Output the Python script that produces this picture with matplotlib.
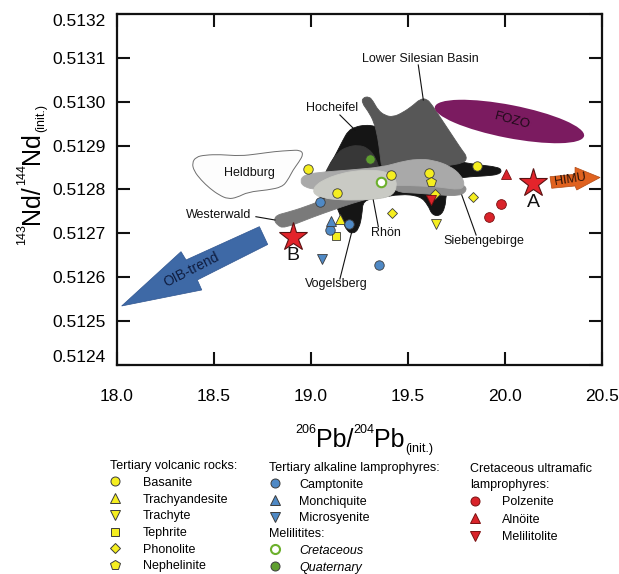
import matplotlib
matplotlib.use("Agg")
import matplotlib.pyplot as plt
from matplotlib.patches import Polygon, Ellipse, PathPatch
from matplotlib.path import Path
from matplotlib.lines import Line2D
import matplotlib.transforms as mtransforms

plt.rcParams['font.family'] = ['Liberation Sans', 'DejaVu Sans']
plt.rcParams['mathtext.default'] = 'regular'

# ---------------- axis ticks ----------------
x_ticks = [18.0, 18.5, 19.0, 19.5, 20.0, 20.5]
y_ticks = [0.5124, 0.5125, 0.5126, 0.5127, 0.5128, 0.5129, 0.5130, 0.5131, 0.5132]

# ---------------- samples: 206Pb/204Pb (init.), 143Nd/144Nd (init.) ----------------
basanite_pb = [18.983, 19.412, 19.608, 19.856, 19.134]
basanite_nd = [0.512846, 0.512832, 0.512838, 0.512854, 0.512791]
trachyandesite_pb = [19.149]
trachyandesite_nd = [0.512732]
trachyte_pb = [19.644]
trachyte_nd = [0.512721]
tephrite_pb = [19.127]
tephrite_nd = [0.512694]
phonolite_pb = [19.639, 19.833, 19.418]
phonolite_nd = [0.512790, 0.512784, 0.512747]
nephelinite_pb = [19.617]
nephelinite_nd = [0.512816]

camptonite_pb = [19.046, 19.098, 19.198, 19.352]
camptonite_nd = [0.512771, 0.512708, 0.512721, 0.512628]
monchiquite_pb = [19.103]
monchiquite_nd = [0.512728]
microsyenite_pb = [19.055]
microsyenite_nd = [0.512641]

melil_cret_pb = [19.361]
melil_cret_nd = [0.512816]
melil_quat_pb = [19.304]
melil_quat_nd = [0.512870]

polzenite_pb = [19.979, 19.918]
polzenite_nd = [0.512767, 0.512738]
alnoite_pb = [20.005]
alnoite_nd = [0.512835]
melilitolite_pb = [19.619]
melilitolite_nd = [0.512776]

# end-members A and B
star_pb = [20.146, 18.906]
star_nd = [0.5128155, 0.5126925]
star_names = ['A', 'B']

# ---------------- regional fields (Pb, Nd) ----------------
field_heldburg = [(18.387, 0.5128604), (18.407, 0.5128741), (18.454, 0.5128786), (18.531, 0.5128798),
                  (18.634, 0.5128764), (18.722, 0.5128809), (18.814, 0.5128866), (18.892, 0.5128889),
                  (18.943, 0.5128900), (18.961, 0.5128809), (18.938, 0.5128627), (18.907, 0.5128444),
                  (18.881, 0.5128217), (18.851, 0.5128057), (18.778, 0.5127989), (18.675, 0.5127943),
                  (18.619, 0.5127818), (18.572, 0.5127783), (18.526, 0.5127875), (18.479, 0.5128023),
                  (18.433, 0.5128217), (18.397, 0.5128422)]

field_vogelsberg = [(19.191, 0.5129333), (19.227, 0.5129424), (19.278, 0.5129470), (19.330, 0.5129447),
                    (19.381, 0.5129356), (19.459, 0.5129128), (19.521, 0.5128923), (19.588, 0.5128878),
                    (19.665, 0.5128764), (19.768, 0.5128627), (19.871, 0.5128558), (19.959, 0.5128513),
                    (19.985, 0.5128444), (19.969, 0.5128342), (19.897, 0.5128308), (19.794, 0.5128285),
                    (19.716, 0.5128217), (19.696, 0.5127875), (19.691, 0.5127578), (19.665, 0.5127396),
                    (19.624, 0.5127419), (19.603, 0.5127647), (19.562, 0.5127852), (19.459, 0.5127897),
                    (19.356, 0.5127806), (19.268, 0.5127761), (19.263, 0.5127419), (19.247, 0.5127100),
                    (19.216, 0.5126986), (19.186, 0.5127054), (19.165, 0.5127259), (19.139, 0.5127533),
                    (19.129, 0.5127647), (19.072, 0.5127647), (19.036, 0.5127875), (19.057, 0.5128217),
                    (19.098, 0.5128558), (19.139, 0.5128900), (19.165, 0.5129128)]

field_hocheifel = [(19.139, 0.5128855), (19.186, 0.5128969), (19.242, 0.5129014), (19.294, 0.5128946),
                   (19.335, 0.5128718), (19.356, 0.5128399), (19.314, 0.5128080), (19.149, 0.5127989),
                   (19.057, 0.5128171), (19.088, 0.5128536)]

field_lower_silesian = [(19.263, 0.5129972), (19.266, 0.5130090), (19.299, 0.5130120), (19.320, 0.5130017),
                        (19.345, 0.5129812), (19.381, 0.5129687), (19.423, 0.5129652), (19.474, 0.5129755),
                        (19.526, 0.5129915), (19.562, 0.5130060), (19.596, 0.5130070), (19.624, 0.5129926),
                        (19.665, 0.5129652), (19.706, 0.5129379), (19.747, 0.5129105), (19.778, 0.5128900),
                        (19.805, 0.5128741), (19.790, 0.5128604), (19.691, 0.5128536), (19.562, 0.5128444),
                        (19.433, 0.5128399), (19.366, 0.5128444), (19.356, 0.5128786), (19.345, 0.5129174),
                        (19.325, 0.5129538), (19.294, 0.5129789)]

field_westerwald = [(18.825, 0.5127419), (18.809, 0.5127316), (18.825, 0.5127191), (18.861, 0.5127111),
                    (19.010, 0.5127373), (19.113, 0.5127533), (19.216, 0.5127692), (19.330, 0.5127829),
                    (19.407, 0.5127920), (19.397, 0.5128217), (19.253, 0.5128103), (19.098, 0.5127829),
                    (18.969, 0.5127601), (18.866, 0.5127464)]

field_siebengebirge_low = [(19.407, 0.5128217), (19.613, 0.5128217), (19.742, 0.5128171), (19.799, 0.5128080),
                           (19.799, 0.5127943), (19.758, 0.5127852), (19.665, 0.5127875), (19.536, 0.5127920),
                           (19.433, 0.5127943)]

field_siebengebirge = [(18.943, 0.5128194), (18.964, 0.5128331), (19.031, 0.5128387), (19.201, 0.5128444),
                       (19.371, 0.5128513), (19.459, 0.5128627), (19.546, 0.5128695), (19.629, 0.5128672),
                       (19.716, 0.5128536), (19.773, 0.5128331), (19.794, 0.5128103), (19.768, 0.5127989),
                       (19.665, 0.5128057), (19.562, 0.5128080), (19.433, 0.5128103), (19.201, 0.5127989),
                       (19.031, 0.5127989), (18.964, 0.5128057)]

field_rhoen = [(19.010, 0.5127989), (19.031, 0.5128125), (19.077, 0.5128239), (19.129, 0.5128331),
               (19.216, 0.5128422), (19.320, 0.5128444), (19.392, 0.5128399), (19.433, 0.5128262),
               (19.443, 0.5128080), (19.423, 0.5127875), (19.356, 0.5127783), (19.253, 0.5127761),
               (19.149, 0.5127761), (19.062, 0.5127806), (19.021, 0.5127875)]

# mantle components
fozo_center = (20.023, 0.512955)
himu_arrow = [(20.232, 0.5128292), (20.361, 0.5128347), (20.361, 0.5128506), (20.490, 0.5128274),
              (20.370, 0.5127989), (20.361, 0.5128080), (20.241, 0.5128028)]
oib_arrow = [(18.024, 0.5125345), (18.330, 0.5126583), (18.356, 0.5126394), (18.734, 0.5127153),
             (18.777, 0.5126747), (18.414, 0.5125938), (18.437, 0.5125710)]

# field labels: text, text position, leader line start, leader line end
field_labels = [
    ('Lower Silesian Basin', (19.565, 0.5130968), (19.553, 0.5130838), (19.579, 0.5130040)),
    ('Hocheifel', (19.110, 0.5129851), (19.149, 0.5129698), (19.227, 0.5129356)),
    ('Heldburg', (18.682, 0.5128369), None, None),
    ('Westerwald', (18.522, 0.5127419), (18.716, 0.5127380), (18.814, 0.5127305)),
    ('Rhön', (19.385, 0.5127002), (19.347, 0.5127152), (19.321, 0.5127761)),
    ('Siebengebirge', (19.892, 0.5126833), (19.851, 0.5126963), (19.777, 0.5127875)),
    ('Vogelsberg', (19.129, 0.5125847), (19.149, 0.5125961), (19.210, 0.5127032)),
]

# ---------------- colours ----------------
YEL = '#f5ee1f'
BLUE = '#4f89c5'
RED = '#d9232a'
GREEN = '#5f9f2f'
EDGE = '#3c3c3c'


def smooth_patch(verts, **kw):
    """Closed outline through the edge midpoints, using the vertices as Bezier controls."""
    n = len(verts)
    mids = [((verts[i][0] + verts[(i + 1) % n][0]) / 2, (verts[i][1] + verts[(i + 1) % n][1]) / 2)
            for i in range(n)]
    pv = [mids[-1]]
    codes = [Path.MOVETO]
    for i in range(n):
        pv += [verts[i], mids[i]]
        codes += [Path.CURVE3, Path.CURVE3]
    pv.append(mids[-1])
    codes.append(Path.CLOSEPOLY)
    return PathPatch(Path(pv, codes), **kw)


fig = plt.figure(figsize=(6.19, 5.74), dpi=100)
ax = fig.add_axes([117 / 619, 1 - 365 / 574, 485 / 619, 351 / 574])
ax.set_xlim(18.0, 20.5)
ax.set_ylim(0.5124, 0.5132)

# ---- fields ----
ax.add_patch(smooth_patch(field_heldburg, fc='#fdfdfd', ec='#6e6e6e', lw=0.7, zorder=1))
for verts, col in [(field_vogelsberg, '#151515'), (field_hocheifel, '#373737'),
                   (field_lower_silesian, '#575757'), (field_westerwald, '#7a7a7a'),
                   (field_siebengebirge_low, '#8c8c8c'), (field_siebengebirge, '#a9a9a9'),
                   (field_rhoen, '#c9cac4')]:
    ax.add_patch(smooth_patch(verts, fc=col, ec=col, lw=0.6, zorder=2))

# FOZO ellipse, sized in inches and centred on its data position
fozo_tr = fig.dpi_scale_trans + mtransforms.ScaledTranslation(fozo_center[0], fozo_center[1], ax.transData)
ax.add_patch(Ellipse((0, 0), width=1.52, height=0.33, angle=-11, fc='#7b1b60', ec='none',
                     transform=fozo_tr, zorder=2))
ax.text(fozo_center[0] + 0.015, fozo_center[1] + 0.0000025, 'FOZO', rotation=-15, ha='center', va='center',
        fontsize=9.5, color='#1e0a18', zorder=3)

ax.add_patch(Polygon(himu_arrow, closed=True, fc='#e0621f', ec='#b04a15', lw=0.5, zorder=2))
ax.text(20.335, 0.5128217, 'HIMU', rotation=9, ha='center', va='center', fontsize=9,
        color='#2a1208', zorder=3)

ax.add_patch(Polygon(oib_arrow, closed=True, fc='#3e69a6', ec='#2f5590', lw=0.5, zorder=2))
ax.text(18.385, 0.5126166, 'OIB-trend', rotation=27, ha='center', va='center', fontsize=10,
        color='#0f1d40', zorder=3)

# ---- field labels with leader lines ----
for name, tpos, p0, p1 in field_labels:
    ax.text(tpos[0], tpos[1], name, ha='center', va='center', fontsize=9, color='#111111', zorder=4)
    if p0 is not None:
        ax.plot([p0[0], p1[0]], [p0[1], p1[1]], color='#111111', lw=0.8, zorder=3)


# ---- samples ----
def pts(x, y, marker, fc, ms, ec=EDGE, mew=0.6):
    ax.plot(x, y, ls='none', marker=marker, ms=ms, mfc=fc, mec=ec, mew=mew, zorder=5)


pts(basanite_pb, basanite_nd, 'o', YEL, 6.8)
pts(trachyandesite_pb, trachyandesite_nd, '^', YEL, 6.8)
pts(trachyte_pb, trachyte_nd, 'v', YEL, 6.8)
pts(tephrite_pb, tephrite_nd, 's', YEL, 6.0)
pts(phonolite_pb, phonolite_nd, 'D', YEL, 5.2)
pts(nephelinite_pb, nephelinite_nd, 'p', YEL, 7.5)
pts(camptonite_pb, camptonite_nd, 'o', BLUE, 6.8)
pts(monchiquite_pb, monchiquite_nd, '^', BLUE, 6.8)
pts(microsyenite_pb, microsyenite_nd, 'v', BLUE, 6.8)
pts(melil_cret_pb, melil_cret_nd, 'o', 'white', 6.8, ec='#6cb02c', mew=1.5)
pts(melil_quat_pb, melil_quat_nd, 'o', GREEN, 6.8)
pts(polzenite_pb, polzenite_nd, 'o', RED, 7.0, ec='#7a1010')
pts(alnoite_pb, alnoite_nd, '^', RED, 7.0, ec='#7a1010')
pts(melilitolite_pb, melilitolite_nd, 'v', RED, 7.0, ec='#7a1010')

ax.plot(star_pb, star_nd, ls='none', marker='*', ms=21, mfc='#e3242b', mec='#5a1212', mew=0.8, zorder=6)
for x, y, s in zip(star_pb, star_nd, star_names):
    ax.text(x, y - 0.0000440, s, ha='center', va='center', fontsize=14, color='#111111', zorder=6)

# ---- axes styling ----
ax.set_xticks(x_ticks, labels=[f'{v:.1f}' for v in x_ticks])
ax.set_yticks(y_ticks, labels=[f'{v:.4f}' for v in y_ticks])
ax.tick_params(axis='both', which='major', direction='in', length=9.5, width=1.5,
               top=True, right=True, labelsize=12.5, color='#111111')
ax.tick_params(axis='x', pad=17)
ax.tick_params(axis='y', pad=8)
ylabels = ax.get_yticklabels()
ylabels[-1].set_va('top')
ylabels[0].set_va('bottom')
for sp in ax.spines.values():
    sp.set_linewidth(1.6)
    sp.set_color('#111111')

# ---- axis titles built from pieces (small raised isotope masses) ----
BIG, SMALL = 18, 9
ann = dict(textcoords='offset points', annotation_clip=False)

xa = fig.text(316 / 619, 1 - 452 / 574, 'Pb/', fontsize=BIG, ha='left', va='bottom')
ax.annotate('206', xy=(0, 1), xycoords=xa, xytext=(0, 3), ha='right', va='top', fontsize=SMALL, **ann)
xs2 = ax.annotate('204', xy=(1, 1), xycoords=xa, xytext=(0, 3), ha='left', va='top', fontsize=SMALL, **ann)
xb = ax.annotate('Pb', xy=(1, 0), xycoords=(xs2, xa), xytext=(0, 0), ha='left', va='bottom',
                 fontsize=BIG, **ann)
ax.annotate('(init.)', xy=(1, 0), xycoords=xb, xytext=(0.5, -2), ha='left', va='bottom',
            fontsize=SMALL, **ann)

ya = fig.text(44 / 619, 1 - 224 / 574, 'Nd/', fontsize=BIG, rotation=90, ha='right', va='bottom')
ax.annotate('143', xy=(0, 0), xycoords=ya, xytext=(-3, 0), ha='left', va='top', rotation=90,
            fontsize=SMALL, **ann)
ys2 = ax.annotate('144', xy=(0, 1), xycoords=ya, xytext=(-3, 0), ha='left', va='bottom', rotation=90,
                  fontsize=SMALL, **ann)
yb = ax.annotate('Nd', xy=(1, 1), xycoords=(ya, ys2), xytext=(0, 0), ha='right', va='bottom',
                 rotation=90, fontsize=BIG, **ann)
ax.annotate('(init.)', xy=(1, 1), xycoords=yb, xytext=(2, 0.5), ha='right', va='bottom', rotation=90,
            fontsize=SMALL, **ann)


# ---- legends ----
def h(marker, fc, ms=6.5, ec=EDGE, mew=0.7):
    return Line2D([], [], ls='none', marker=marker, ms=ms, mfc=fc, mec=ec, mew=mew)


leg_kw = dict(loc='upper left', frameon=False, fontsize=9, title_fontsize=9, alignment='left',
              borderpad=0, borderaxespad=0)

fig.legend([h('o', YEL), h('^', YEL), h('v', YEL), h('s', YEL, 5.8), h('D', YEL, 5.0), h('p', YEL, 7.2)],
           ['Basanite', 'Trachyandesite', 'Trachyte', 'Tephrite', 'Phonolite', 'Nephelinite'],
           title='Tertiary volcanic rocks:', bbox_to_anchor=(110 / 619, 1 - 460 / 574),
           handlelength=0.8, handletextpad=1.85, labelspacing=0.38, **leg_kw)

fig.legend([h('o', BLUE), h('^', BLUE), h('v', BLUE)],
           ['Camptonite', 'Monchiquite', 'Microsyenite'],
           title='Tertiary alkaline lamprophyres:', bbox_to_anchor=(269 / 619, 1 - 462 / 574),
           handlelength=1.0, handletextpad=1.4, labelspacing=0.38, **leg_kw)

leg_mel = fig.legend([h('o', 'white', ec='#6cb02c', mew=1.5), h('o', GREEN)],
                     ['Cretaceous', 'Quaternary'],
                     title='Melilitites:', bbox_to_anchor=(269 / 619, 1 - 528 / 574),
                     handlelength=1.0, handletextpad=1.4, labelspacing=0.38, **leg_kw)
for t in leg_mel.get_texts():
    t.set_fontstyle('italic')

leg_cr = fig.legend([h('o', RED, ec='#7a1010'), h('^', RED, ec='#7a1010'), h('v', RED, ec='#7a1010')],
                    ['Polzenite', 'Alnöite', 'Melilitolite'],
                    title='Cretaceous ultramafic\nlamprophyres:', bbox_to_anchor=(470 / 619, 1 - 463 / 574),
                    handlelength=0.8, handletextpad=1.75, labelspacing=0.45, **leg_kw)
leg_cr.get_title().set_linespacing(1.4)

fig.savefig('out.png', dpi=100)
